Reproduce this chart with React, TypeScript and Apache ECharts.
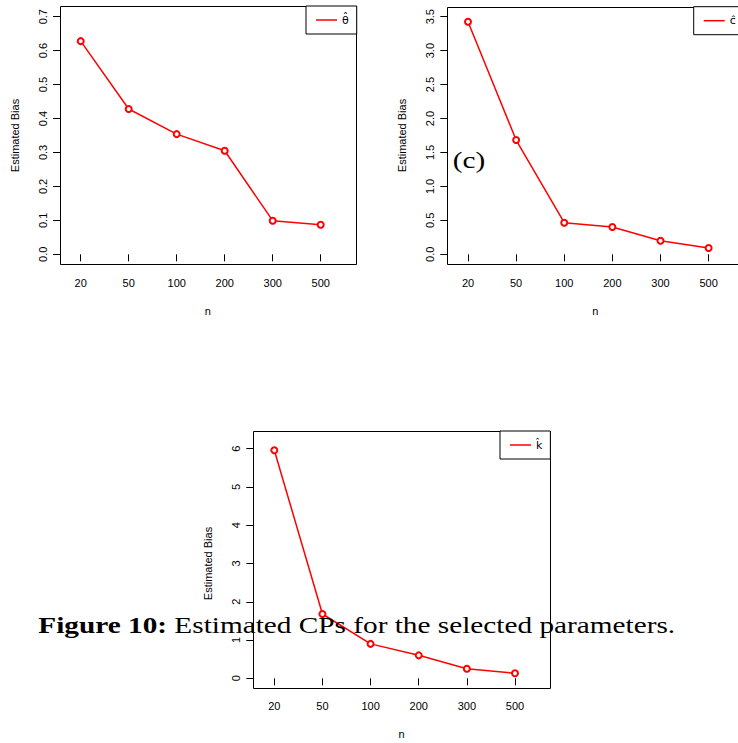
import React, { useEffect, useRef } from 'react';
import * as echarts from 'echarts';

// ---- data ----
const categories = ['20', '50', '100', '200', '300', '500'];
const thetaBias = [0.628, 0.428, 0.354, 0.305, 0.099, 0.087];
const cBias = [3.426, 1.683, 0.465, 0.402, 0.2, 0.093];
const kBias = [5.96, 1.68, 0.9, 0.6, 0.25, 0.13];
const seriesLetters = ['θ', 'c', 'k'];
const yMax = [0.7, 3.5, 6];
const yStep = [0.1, 0.5, 1];
const yDecimals = [1, 1, 0];
const xTitle = 'n';
const yTitle = 'Estimated Bias';
const panelTag = '(c)';
const captionLead = 'Figure 10:';
const captionRest = 'Estimated CPs for the selected parameters.';

const seriesValues = [thetaBias, cBias, kBias];

const SANS = 'Liberation Sans, Arial, sans-serif';
const SERIF = 'Liberation Serif, Times New Roman, serif';

// ---- layout (px) ----
const LAYOUT = [
  { box: { x: 60, y: 6, w: 296, h: 258 }, grid: { x: 80.7, y: 16.7, w: 240, h: 237.6 }, legend: { x: 306, y: 6 } },
  { box: { x: 447.3, y: 6.7, w: 296, h: 257.3 }, grid: { x: 468, y: 16.7, w: 240.6, h: 237.6 }, legend: { x: 693.7, y: 6.7 } },
  { box: { x: 253.3, y: 431, w: 296.7, h: 256.7 }, grid: { x: 274.3, y: 448.7, w: 240.7, h: 229.6 }, legend: { x: 500, y: 431 } },
];

const crisp = (v: number) => Math.round(v) + 0.5;

function buildOption(): any {
  const names = seriesLetters.map((s) => s + '\u0302');
  const axisText = { fontSize: 11, fontFamily: SANS, color: '#000' };
  return {
    animation: false,
    backgroundColor: '#fff',
    grid: LAYOUT.map((l) => ({ left: l.grid.x, top: l.grid.y, width: l.grid.w, height: l.grid.h, containLabel: false })),
    xAxis: LAYOUT.map((l, i) => ({
      type: 'category',
      gridIndex: i,
      data: categories,
      boundaryGap: false,
      offset: l.box.y + l.box.h - (l.grid.y + l.grid.h),
      axisLine: { show: false },
      axisTick: { show: true, interval: 0, length: 7, lineStyle: { color: '#000', width: 1 } },
      axisLabel: { interval: 0, margin: 13, ...axisText },
      splitLine: { show: false },
      name: xTitle,
      nameLocation: 'middle',
      nameGap: 41,
      nameTextStyle: { ...axisText, padding: [0, 0, 0, 14] },
    })),
    yAxis: LAYOUT.map((l, i) => ({
      type: 'value',
      gridIndex: i,
      min: 0,
      max: yMax[i],
      interval: yStep[i],
      offset: l.grid.x - l.box.x,
      axisLine: { show: false },
      axisTick: { show: true, length: 7, lineStyle: { color: '#000', width: 1 } },
      axisLabel: { rotate: 90, margin: 12, formatter: (v: number) => v.toFixed(yDecimals[i]), ...axisText },
      splitLine: { show: false },
      name: yTitle,
      nameLocation: 'middle',
      nameGap: 40,
      nameTextStyle: { ...axisText },
    })),
    legend: LAYOUT.map((l, i) => ({
      data: [names[i]],
      left: l.legend.x,
      top: l.legend.y,
      orient: 'vertical',
      padding: [7, 8, 7, 10],
      icon: 'rect',
      itemWidth: 21,
      itemHeight: 1.5,
      borderColor: '#000',
      borderWidth: 1,
      borderRadius: 0,
      backgroundColor: '#fff',
      selectedMode: false,
      itemStyle: { color: 'red', borderWidth: 0 },
      textStyle: { fontSize: 11, lineHeight: 14, color: '#000', fontFamily: 'DejaVu Sans, sans-serif' },
    })),
    series: seriesValues.map((vals, i) => ({
      type: 'line',
      name: names[i],
      xAxisIndex: i,
      yAxisIndex: i,
      data: vals,
      symbol: 'emptyCircle',
      symbolSize: 6,
      color: 'red',
      lineStyle: { color: 'red', width: 1.5 },
      itemStyle: { color: 'red', borderColor: 'red', borderWidth: 1.5 },
      z: 3,
    })),
    graphic: [
      ...LAYOUT.map((l) => ({
        type: 'rect',
        z: 1,
        shape: { x: crisp(l.box.x), y: crisp(l.box.y), width: Math.round(l.box.w), height: Math.round(l.box.h) },
        style: { fill: 'none', stroke: '#000', lineWidth: 1 },
        silent: true,
      })),
      {
        type: 'text',
        x: 452.7,
        y: 160.2,
        scaleX: 1.22,
        z: 50,
        silent: true,
        style: { text: panelTag, fontFamily: SERIF, fontSize: 24, fontWeight: 'normal', fill: '#000', align: 'left', verticalAlign: 'middle' },
      },
      {
        type: 'text',
        x: 38.3,
        y: 625.2,
        scaleX: 1.22,
        z: 100,
        silent: true,
        style: {
          text: `{b|${captionLead}} ${captionRest}`,
          fontFamily: SERIF,
          fontSize: 24,
          fontWeight: 'normal',
          fill: '#000',
          align: 'left',
          verticalAlign: 'middle',
          rich: { b: { fontWeight: 'bold', fontFamily: SERIF, fontSize: 24, fill: '#000' } },
        },
      },
    ],
  };
}

export default function App() {
  const ref = useRef<HTMLDivElement>(null);
  useEffect(() => {
    if (!ref.current) return;
    const chart = echarts.init(ref.current, undefined, { renderer: 'svg' });
    chart.setOption(buildOption());
    return () => chart.dispose();
  }, []);
  return (
    <div
      ref={ref}
      style={{ position: 'absolute', left: 0, top: 0, width: 738, height: 743, background: '#fff' }}
    />
  );
}
